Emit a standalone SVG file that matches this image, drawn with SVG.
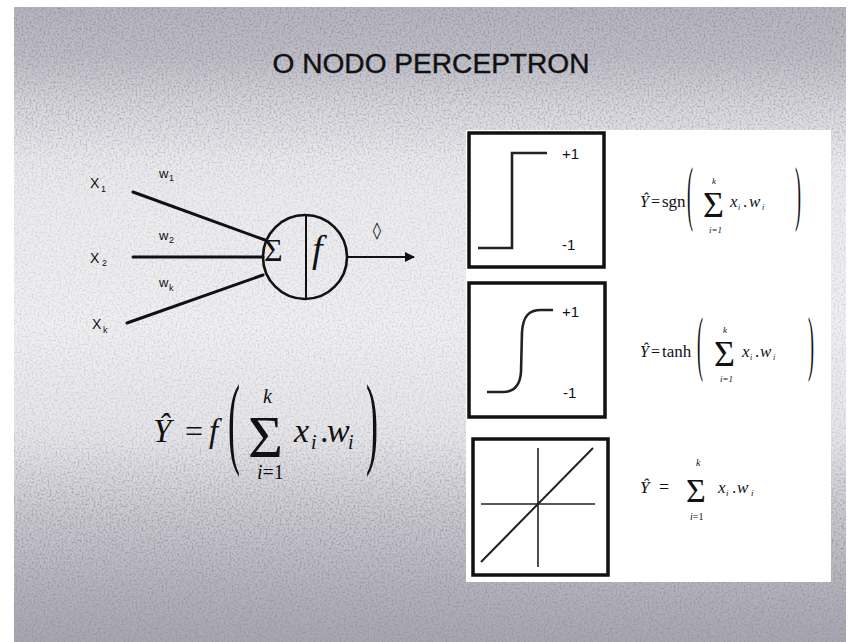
<svg xmlns="http://www.w3.org/2000/svg" width="852" height="642" viewBox="0 0 852 642">
<defs>
<linearGradient id="bg" x1="0" y1="0" x2="0" y2="1">
<stop offset="0" stop-color="#b7b6bf"/>
<stop offset="0.08" stop-color="#c0bfc7"/>
<stop offset="0.15" stop-color="#d6d6dc"/>
<stop offset="0.24" stop-color="#ebebee"/>
<stop offset="0.5" stop-color="#f1f1f3"/>
<stop offset="0.68" stop-color="#e6e6ea"/>
<stop offset="0.8" stop-color="#cbcad1"/>
<stop offset="0.92" stop-color="#b3b2bb"/>
<stop offset="1" stop-color="#a8a7b1"/>
</linearGradient>
<linearGradient id="mg" x1="0" y1="0" x2="0" y2="1">
<stop offset="0" stop-color="#fff"/>
<stop offset="0.18" stop-color="#999"/>
<stop offset="0.3" stop-color="#444"/>
<stop offset="0.65" stop-color="#555"/>
<stop offset="0.8" stop-color="#ccc"/>
<stop offset="1" stop-color="#fff"/>
</linearGradient>
<mask id="gm"><rect x="14" y="7" width="832" height="635" fill="url(#mg)"/></mask>
<filter id="grain" x="0" y="0" width="100%" height="100%">
<feTurbulence type="fractalNoise" baseFrequency="0.5" numOctaves="3" seed="4"/>
<feColorMatrix type="matrix" values="0 0 0 0 0.3  0 0 0 0 0.3  0 0 0 0 0.36  0 0 0 -2.6 1.5"/>
</filter>
<marker id="arr" viewBox="0 0 10 10" refX="9" refY="5" markerWidth="10" markerHeight="10" markerUnits="userSpaceOnUse" orient="auto">
<path d="M0,0 L10,5 L0,10 z" fill="#111"/>
</marker>
<style>
.sans{font-family:"Liberation Sans",Arial,sans-serif;fill:#111}
.serif{font-family:"Liberation Serif","Times New Roman",serif;fill:#111}
.it{font-style:italic}
.edge{stroke:#111;stroke-width:3;fill:none;stroke-linecap:round}
.box{fill:#fff;stroke:#111;stroke-width:3.5}
.curve{fill:none;stroke:#222;stroke-width:2.6}
.thin{fill:none;stroke:#222;stroke-width:1.6}
</style>
</defs>

<rect width="852" height="642" fill="#fff"/>
<rect x="14" y="7" width="832" height="635" fill="url(#bg)"/>
<rect x="14" y="7" width="832" height="635" filter="url(#grain)" mask="url(#gm)"/>
<rect x="466" y="130" width="365" height="452" fill="#fff"/>

<g id="title">
<text class="sans" x="431" y="73" font-size="27" text-anchor="middle" textLength="317" lengthAdjust="spacingAndGlyphs" stroke="#111" stroke-width="0.4">O NODO PERCEPTRON</text>
</g>

<g id="connectors">
<line class="edge" x1="133" y1="192" x2="265" y2="240"/>
<line class="edge" x1="133" y1="257" x2="263" y2="257"/>
<line class="edge" x1="127" y1="323" x2="263" y2="275"/>
<line x1="347" y1="257" x2="414" y2="257" stroke="#111" stroke-width="2" marker-end="url(#arr)"/>
</g>

<g id="input-x1">
<text class="sans" x="90" y="188" font-size="14">X</text>
<text class="sans" x="101" y="192" font-size="9">1</text>
<text class="sans" x="159" y="178" font-size="13">w</text>
<text class="sans" x="169" y="181" font-size="9">1</text>
</g>
<g id="input-x2">
<text class="sans" x="90" y="263" font-size="14">X</text>
<text class="sans" x="102" y="266" font-size="9">2</text>
<text class="sans" x="159" y="240" font-size="13">w</text>
<text class="sans" x="169" y="243" font-size="9">2</text>
</g>
<g id="input-xk">
<text class="sans" x="92" y="329" font-size="14">X</text>
<text class="sans" x="103" y="333" font-size="9">k</text>
<text class="sans" x="159" y="287" font-size="13">w</text>
<text class="sans" x="169" y="291" font-size="9">k</text>
</g>

<g id="neuron">
<circle cx="305" cy="257" r="42" fill="none" stroke="#111" stroke-width="2.6"/>
<line x1="306" y1="215" x2="306" y2="299" stroke="#111" stroke-width="2"/>
<text class="serif" x="264" y="261" font-size="32">Σ</text>
<text class="serif it" x="312" y="262" font-size="38">f</text>
</g>

<g id="output">
<text style="font-family:'DejaVu Sans',sans-serif;fill:#111" x="377" y="236" font-size="17" text-anchor="middle">◊</text>
</g>

<g id="formula-main">
<text class="serif it" x="153" y="442" font-size="33">Ŷ</text>
<text class="serif" x="185" y="442" font-size="32">=</text>
<text class="serif it" x="209" y="442" font-size="33">f</text>
<text class="serif" transform="translate(228,455) scale(1,2.8)" font-size="36">(</text>
<text class="serif" x="248" y="457" font-size="60">Σ</text>
<text class="serif it" x="263" y="403" font-size="20">k</text>
<text class="serif" x="257" y="479" font-size="20"><tspan font-style="italic">i</tspan>=1</text>
<text class="serif it" x="294" y="442" font-size="34">x</text>
<text class="serif it" x="311" y="449" font-size="20">i</text>
<text class="serif" x="320" y="442" font-size="34">.</text>
<text class="serif it" x="327" y="442" font-size="34">w</text>
<text class="serif it" x="348" y="449" font-size="20">i</text>
<text class="serif" transform="translate(366,455) scale(1,2.8)" font-size="36">)</text>
</g>

<g id="graph-sign">
<rect class="box" x="469" y="133" width="135" height="134"/>
<path class="curve" d="M478,248 L512,248 L512,153 L547,153"/>
<text class="sans" x="562" y="159" font-size="15">+1</text>
<text class="sans" x="562" y="250" font-size="15">-1</text>
</g>
<g id="formula-sign">
<text class="serif it" x="640" y="207" font-size="16">Ŷ</text>
<text class="serif" x="651" y="207" font-size="16">=</text>
<text class="serif" x="662" y="207" font-size="17">sgn</text>
<text class="serif" transform="translate(687,217) scale(1,4)" font-size="18">(</text>
<text class="serif" x="703" y="217" font-size="36">Σ</text>
<text class="serif it" x="712" y="184" font-size="9">k</text>
<text class="serif it" x="709" y="233" font-size="9">i=1</text>
<text class="serif it" x="730" y="207" font-size="17">x</text>
<text class="serif it" x="738" y="210" font-size="8">i</text>
<text class="serif" x="743" y="207" font-size="17">.</text>
<text class="serif it" x="749" y="207" font-size="17">w</text>
<text class="serif it" x="762" y="210" font-size="8">i</text>
<text class="serif" transform="translate(795,217) scale(1,4)" font-size="18">)</text>
</g>

<g id="graph-tanh">
<rect class="box" x="469" y="283" width="136" height="134"/>
<path class="curve" d="M487,392 L503,392 C514,392 520,386 521,372 L522,332 C523,316 529,310 541,310 L553,310"/>
<text class="sans" x="562" y="317" font-size="15">+1</text>
<text class="sans" x="563" y="398" font-size="15">-1</text>
</g>
<g id="formula-tanh">
<text class="serif it" x="640" y="357" font-size="16">Ŷ</text>
<text class="serif" x="651" y="357" font-size="16">=</text>
<text class="serif" x="662" y="357" font-size="17">tanh</text>
<text class="serif" transform="translate(697,367) scale(1,4)" font-size="18">(</text>
<text class="serif" x="714" y="366" font-size="36">Σ</text>
<text class="serif it" x="723" y="333" font-size="9">k</text>
<text class="serif it" x="720" y="382" font-size="9">i=1</text>
<text class="serif it" x="742" y="357" font-size="17">x</text>
<text class="serif it" x="750" y="360" font-size="8">i</text>
<text class="serif" x="755" y="357" font-size="17">.</text>
<text class="serif it" x="760" y="357" font-size="17">w</text>
<text class="serif it" x="773" y="360" font-size="8">i</text>
<text class="serif" transform="translate(808,367) scale(1,4)" font-size="18">)</text>
</g>

<g id="graph-linear">
<rect class="box" x="473" y="439" width="135" height="136"/>
<line class="thin" x1="538" y1="448" x2="538" y2="567"/>
<line class="thin" x1="481" y1="504" x2="595" y2="504"/>
<line x1="481" y1="562" x2="593" y2="448" stroke="#222" stroke-width="2"/>
</g>
<g id="formula-linear">
<text class="serif it" x="640" y="493" font-size="17">Ŷ</text>
<text class="serif" x="659" y="493" font-size="18">=</text>
<text class="serif" x="686" y="502" font-size="34">Σ</text>
<text class="serif it" x="696" y="466" font-size="10">k</text>
<text class="serif" x="690" y="520" font-size="10"><tspan font-style="italic">i</tspan>=1</text>
<text class="serif it" x="718" y="493" font-size="17">x</text>
<text class="serif it" x="726" y="496" font-size="9">i</text>
<text class="serif" x="732" y="493" font-size="17">.</text>
<text class="serif it" x="737" y="493" font-size="17">w</text>
<text class="serif it" x="751" y="496" font-size="9">i</text>
</g>
</svg>
